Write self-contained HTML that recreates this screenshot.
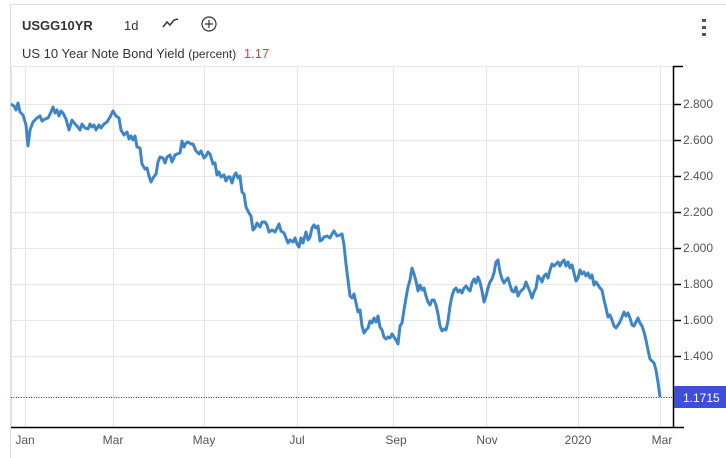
<!DOCTYPE html>
<html><head><meta charset="utf-8"><style>
body{margin:0;background:#fff;width:726px;height:458px;overflow:hidden;font-family:"Liberation Sans",Arial,sans-serif;}
</style></head><body>
<svg width="726" height="458" xmlns="http://www.w3.org/2000/svg" style="position:absolute;left:0;top:0">
<rect x="10.5" y="4.5" width="730" height="470" fill="none" stroke="#ddd"/>
<text x="22" y="30" font-size="13" font-weight="bold" fill="#333" font-family="Liberation Sans,sans-serif">USGG10YR</text>
<text x="124" y="30" font-size="13" fill="#333" font-family="Liberation Sans,sans-serif">1d</text>
<polyline points="163,27 167,22 170,25 174,20 178,19" fill="none" stroke="#333" stroke-width="1.5"/>
<circle cx="209" cy="24" r="7" fill="none" stroke="#333" stroke-width="1.2"/>
<path d="M205 24h8M209 20v8" stroke="#333" stroke-width="1.2"/>
<rect x="702" y="19" width="4" height="3" fill="#555"/><rect x="702" y="26" width="4" height="3" fill="#555"/><rect x="702" y="33" width="4" height="3" fill="#555"/>
<text x="22" y="58" font-size="13" fill="#333" font-family="Liberation Sans,sans-serif">US 10 Year Note Bond Yield <tspan font-size="12">(percent)</tspan> <tspan fill="#e04040" dx="4">1.17</tspan></text>
<g stroke="#e6e6e6" stroke-width="1">
<line x1="11" y1="66.5" x2="673" y2="66.5"/>
<line x1="11" y1="104.5" x2="673" y2="104.5"/><line x1="11" y1="140.5" x2="673" y2="140.5"/><line x1="11" y1="176.5" x2="673" y2="176.5"/><line x1="11" y1="212.5" x2="673" y2="212.5"/><line x1="11" y1="248.5" x2="673" y2="248.5"/><line x1="11" y1="284.5" x2="673" y2="284.5"/><line x1="11" y1="320.5" x2="673" y2="320.5"/><line x1="11" y1="356.5" x2="673" y2="356.5"/>
<line x1="11.5" y1="66" x2="11.5" y2="427"/>
<line x1="25.5" y1="66" x2="25.5" y2="427"/><line x1="113.5" y1="66" x2="113.5" y2="427"/><line x1="204.5" y1="66" x2="204.5" y2="427"/><line x1="297.5" y1="66" x2="297.5" y2="427"/><line x1="393.5" y1="66" x2="393.5" y2="427"/><line x1="486.5" y1="66" x2="486.5" y2="427"/><line x1="578.5" y1="66" x2="578.5" y2="427"/><line x1="660.5" y1="66" x2="660.5" y2="427"/>
</g>
<line x1="11" y1="397.5" x2="673" y2="397.5" stroke="#2a2ad8" stroke-width="1" stroke-dasharray="1,1.5"/>
<polyline fill="none" stroke="#3d85c6" stroke-width="3" stroke-linejoin="round" points="11,104 14,106 16,110 18,103 20,112 23,115 26,125 28,146 30,130 33,122 37,118 40,116 42,121 45,119 48,118 51,112 53,107 55,113 57,110 59,116 61,111 63,113 66,119 69,130 72,120 75,124 77,126 80,130 82,124 85,128 88,129 90,124 92,127 94,125 96,130 99,125 101,128 104,124 107,122 110,117 113,111 116,116 119,118 121,130 124,135 127,132 129,139 131,136 133,140 135,136 137,147 140,148 142,164 145,169 147,168 149,176 151,182 153,178 156,174 158,162 160,157 163,158 165,163 167,157 170,155 172,162 175,155 177,154 180,153 182,141 184,147 186,143 188,142 191,144 193,144 196,151 199,154 201,151 204,158 206,156 208,152 210,154 213,164 215,163 217,175 219,172 221,177 224,175 226,181 228,177 230,177 232,183 234,176 236,173 238,178 240,176 242,192 244,194 246,207 249,213 251,216 253,230 255,228 257,223 260,227 262,222 265,222 267,225 269,232 272,230 275,232 277,228 279,224 281,231 284,233 286,238 288,243 290,240 293,242 295,238 297,244 299,247 301,238 303,243 306,232 308,240 310,237 312,228 314,225 316,228 318,226 320,241 322,240 324,237 327,236 330,238 332,234 334,231 337,236 340,235 342,234 344,245 346,264 348,280 350,296 352,298 354,294 356,303 358,312 360,310 362,326 364,333 366,330 368,328 370,321 372,323 374,318 376,322 378,316 380,327 382,330 384,337 386,339 388,337 390,338 392,334 394,337 396,340 398,344 400,326 402,323 404,310 406,298 408,287 410,280 412,268 414,274 416,281 418,291 420,285 422,290 424,288 426,296 428,302 430,305 432,300 434,300 436,305 438,314 440,326 442,331 444,329 446,330 448,321 450,306 452,296 454,290 456,288 458,292 460,290 462,293 464,288 466,286 468,289 470,291 472,283 474,279 476,283 478,277 480,282 482,291 484,302 486,296 488,288 490,282 492,279 494,273 496,262 498,260 500,272 502,279 504,283 506,280 508,278 510,285 512,291 514,292 516,287 518,296 520,292 522,290 524,288 526,282 528,287 530,292 532,298 534,292 536,288 538,276 540,278 542,282 544,276 546,274 548,278 550,270 552,264 554,266 556,264 558,262 560,266 562,262 564,260 566,266 568,262 570,268 572,265 574,273 576,281 578,278 580,270 582,274 584,272 586,276 588,273 590,278 592,275 594,285 596,282 598,285 600,288 602,290 604,300 606,308 608,317 610,315 612,320 614,326 616,328 618,325 620,322 622,317 624,312 626,316 628,313 630,318 632,325 634,326 636,322 638,318 640,323 642,326 644,332 646,340 648,350 650,359 652,361 654,363 656,370 658,382 660,397"/>
<g stroke="#000" stroke-width="1.5">
<line x1="673.5" y1="66" x2="673.5" y2="427"/>
<line x1="11" y1="427.5" x2="684" y2="427.5"/>
<line x1="673" y1="66.5" x2="683" y2="66.5"/>
<line x1="673" y1="104.5" x2="681" y2="104.5"/><line x1="673" y1="140.5" x2="681" y2="140.5"/><line x1="673" y1="176.5" x2="681" y2="176.5"/><line x1="673" y1="212.5" x2="681" y2="212.5"/><line x1="673" y1="248.5" x2="681" y2="248.5"/><line x1="673" y1="284.5" x2="681" y2="284.5"/><line x1="673" y1="320.5" x2="681" y2="320.5"/><line x1="673" y1="356.5" x2="681" y2="356.5"/>
</g>
<g font-size="12" fill="#555" font-family="Liberation Sans,sans-serif">
<text x="683" y="108">2.800</text><text x="683" y="144">2.600</text><text x="683" y="180">2.400</text><text x="683" y="216">2.200</text><text x="683" y="252">2.000</text><text x="683" y="288">1.800</text><text x="683" y="324">1.600</text><text x="683" y="360">1.400</text>
</g>
<rect x="674" y="386" width="52" height="22" fill="#3d4fd6"/>
<text x="683" y="402" font-size="12" fill="#fff" font-family="Liberation Sans,sans-serif">1.1715</text>
<g font-size="12" fill="#555" font-family="Liberation Sans,sans-serif" text-anchor="middle">
<text x="25" y="444">Jan</text><text x="113" y="444">Mar</text><text x="204" y="444">May</text><text x="297" y="444">Jul</text><text x="396" y="444">Sep</text><text x="487" y="444">Nov</text><text x="578" y="444">2020</text><text x="662" y="444">Mar</text>
</g>
</svg>
</body></html>
